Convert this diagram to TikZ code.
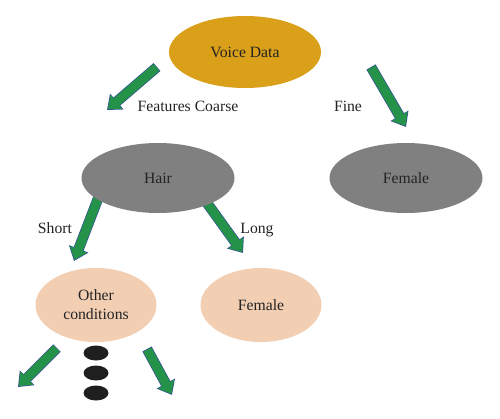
\documentclass[tikz,border=0pt]{standalone}
\usepackage{fontspec}
\setmainfont{Liberation Serif}
\usepackage{tkz-graph}
\usetikzlibrary{shapes.geometric,arrows.meta}

\definecolor{voicegold}{RGB}{218,160,25}
\definecolor{hairgrey}{RGB}{128,128,128}
\definecolor{leafpeach}{RGB}{242,206,178}
\definecolor{arrowgreen}{RGB}{36,146,72}
\definecolor{arrowblue}{RGB}{50,80,150}
\definecolor{textgrey}{RGB}{35,35,35}

\begin{document}
\begin{tikzpicture}[x=1pt,y=-1pt,
    TreeText/.style={font=\fontsize{15.7}{19}\selectfont, text=textgrey},
    ArrowLine/.style={line width=10.5pt, arrowblue, -{Triangle[length=13pt,width=20pt]}},
    ArrowFill/.style={line width=9.1pt, arrowgreen, -{Triangle[length=11.2pt,width=17.6pt]},
        shorten <=0.7pt, shorten >=1.2pt},
    Dot/.style={shape=ellipse, fill=black!88, inner sep=0pt, minimum width=25pt, minimum height=15pt}]
    \useasboundingbox (0,0) rectangle (500,418);
    \SetGraphUnit{2}
    \GraphInit[vstyle=Normal]

    % arrows first, the ellipses cover their tails
    \coordinate (A1s) at (157,67);  \coordinate (A1e) at (107,110);
    \coordinate (A2s) at (371,67);  \coordinate (A2e) at (406,127);
    \coordinate (A3s) at (99,196);  \coordinate (A3e) at (74,261);
    \coordinate (A4s) at (207,203); \coordinate (A4e) at (243,253);
    \coordinate (A5s) at (57,348);  \coordinate (A5e) at (18,387);
    \coordinate (A6s) at (147,349); \coordinate (A6e) at (172,395);
    \foreach \a/\b in {A1s/A1e, A2s/A2e, A3s/A3e, A4s/A4e, A5s/A5e, A6s/A6e}{
        \draw[ArrowLine] (\a) -- (\b);
        \draw[ArrowFill] (\a) -- (\b);
    }

    \tikzset{VertexStyle/.style = {shape=ellipse, fill=voicegold, inner sep=0pt,
        minimum width=152pt, minimum height=72pt, TreeText}}
    \Vertex[x=245,y=52,L={Voice Data}]{VD}

    \tikzset{VertexStyle/.style = {shape=ellipse, fill=hairgrey, inner sep=0pt,
        minimum width=153pt, minimum height=70pt, TreeText}}
    \Vertex[x=158,y=178,L={Hair}]{Hair}
    \Vertex[x=406,y=178,L={Female}]{FemA}

    \tikzset{VertexStyle/.style = {shape=ellipse, fill=leafpeach, inner sep=0pt,
        minimum width=121pt, minimum height=74pt, align=center, TreeText}}
    \Vertex[x=96,y=305,L={Other\\conditions}]{Other}
    \Vertex[x=261,y=305,L={Female}]{FemB}

    \node[TreeText] (LCoarse) at (188,106) {Features Coarse};
    \node[TreeText] (LFine) at (348,106) {Fine};
    \node[TreeText] (LShort) at (55,228) {Short};
    \node[TreeText] (LLong) at (257,230) {Long};

    \node[Dot] (D1) at (96,353) {};
    \node[Dot] (D2) at (96,373) {};
    \node[Dot] (D3) at (96,393) {};
\end{tikzpicture}
\end{document}
